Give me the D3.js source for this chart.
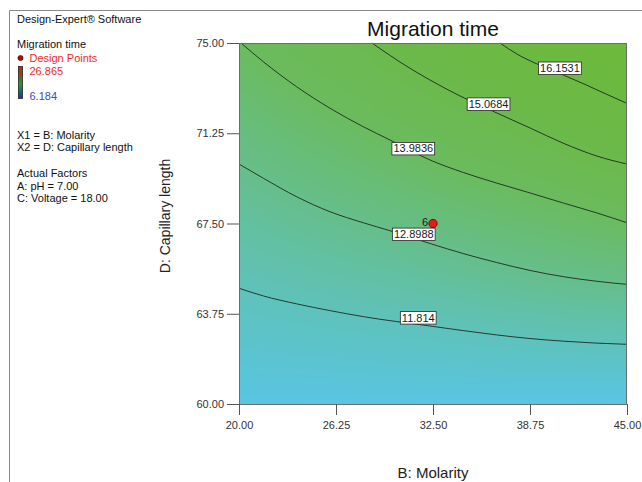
<!DOCTYPE html>
<html>
<head>
<meta charset="utf-8">
<script src="https://cdn.jsdelivr.net/npm/d3@7"></script>
<style>
  html, body { margin: 0; padding: 0; background: #fff; }
  svg { display: block; font-family: "Liberation Sans", Arial, sans-serif; }
</style>
</head>
<body>
<svg id="chart" width="642" height="482"></svg>
<script>
// Axis ticks
const xTicks = [20, 26.25, 32.5, 38.75, 45];
const yTicks = [60, 63.75, 67.5, 71.25, 75];

// Contour levels of the response (Migration time)
const levels = [11.814, 12.8988, 13.9836, 15.0684, 16.1531];

// Contour traces: [B: Molarity, D: Capillary length]
const contour11814 = [[20, 64.81], [21.57, 64.49], [23.72, 64.16], [25.86, 63.88], [28.01, 63.63], [32.31, 63.24],
  [34.45, 63.05], [36.60, 62.87], [38.75, 62.72], [40.90, 62.61], [43.05, 62.53], [45, 62.48]];
const contour12899 = [[20, 69.97], [21.57, 69.38], [23.72, 68.61], [25.86, 67.99], [28.01, 67.53], [29.73, 67.20],
  [32.40, 66.65], [34.45, 66.25], [36.60, 65.88], [38.75, 65.55], [40.90, 65.29], [43.05, 65.10], [45, 64.97]];
const contour13984 = [[20.13, 75], [21.57, 74.22], [23.72, 73.18], [25.86, 72.29], [28.01, 71.52], [29.73, 70.97],
  [32.45, 70.10], [34.45, 69.62], [36.60, 69.18], [38.75, 68.77], [40.90, 68.35], [43.05, 67.94], [45, 67.53]];
const contour15068 = [[28.57, 75], [30.37, 74.21], [32.31, 73.46], [34.24, 72.80], [36.17, 72.22], [38.75, 71.47],
  [40.88, 70.84], [43.07, 70.30], [45, 69.97]];
const contour16153 = [[36.82, 75], [37.91, 74.54], [39.20, 74.13], [40.68, 73.73], [42.29, 73.28], [43.65, 72.88], [45, 72.49]];

// Contour label anchors: [level text, Molarity, Capillary length]
const contourLabels = [["16.1531", 40.68, 73.96], ["15.0684", 36.08, 72.47], ["13.9836", 31.23, 70.62],
  ["12.8988", 31.26, 67.06], ["11.814", 31.55, 63.59]];

// Design point (centre point, 6 replicates)
const designPoints = [[32.5, 67.5, "6"]];

// Response-to-colour stops for the shaded field
const fieldStops = [10.7, 11.8, 12.9, 14.0, 15.1, 16.2, 17.3];
const fieldColors = ["#58c5e6", "#5fc2bb", "#66be8a", "#6bbb5e", "#6cb94c", "#6cb942", "#6eb93a"];

const svg = d3.select("#chart");
const W = 642, H = 482;
const plot = { left: 239, right: 627, top: 43, bottom: 404 };

const x = d3.scaleLinear().domain([20, 45]).range([plot.left, plot.right]);
const y = d3.scaleLinear().domain([60, 75]).range([plot.bottom, plot.top]);

const contours = [contour11814, contour12899, contour13984, contour15068, contour16153]
  .map((pts, i) => ({ level: levels[i], pts }));

// Outer frame (runs off the right and bottom edges)
svg.append("path")
  .attr("d", `M9.5,${H} V10.5 H${W}`)
  .attr("fill", "none").attr("stroke", "#8a8a8a").attr("stroke-width", 1);

// ---- shaded response field, interpolated between contours column by column ----
function traceAt(pts, xv) {
  if (xv < pts[0][0] || xv > pts[pts.length - 1][0]) return null;
  for (let k = 0; k < pts.length - 1; k++) {
    const a = pts[k], b = pts[k + 1];
    if (xv >= a[0] && xv <= b[0]) {
      const t = (xv - a[0]) / (b[0] - a[0]);
      return a[1] + t * (b[1] - a[1]);
    }
  }
  return null;
}
const fieldColor = d3.scaleLinear().domain(fieldStops).range(fieldColors)
  .interpolate(d3.interpolateRgb).clamp(true);

const pw = plot.right - plot.left, ph = plot.bottom - plot.top;
const canvas = document.createElement("canvas");
canvas.width = pw; canvas.height = ph;
const ctx = canvas.getContext("2d");
const img = ctx.createImageData(pw, ph);
for (let i = 0; i < pw; i++) {
  const xv = x.invert(plot.left + i + 0.5);
  const cross = contours.map(c => ({ y: traceAt(c.pts, xv), level: c.level }))
    .filter(d => d.y !== null).sort((a, b) => a.y - b.y);
  for (let j = 0; j < ph; j++) {
    const yv = y.invert(plot.top + j + 0.5);
    let k = 0;
    while (k < cross.length - 2 && yv > cross[k + 1].y) k++;
    const a = cross[k], b = cross[k + 1];
    const v = a.level + (yv - a.y) * (b.level - a.level) / (b.y - a.y);
    const c = d3.rgb(fieldColor(v));
    const p = (j * pw + i) * 4;
    img.data[p] = c.r; img.data[p + 1] = c.g; img.data[p + 2] = c.b; img.data[p + 3] = 255;
  }
}
ctx.putImageData(img, 0, 0);
svg.append("image")
  .attr("x", plot.left).attr("y", plot.top)
  .attr("width", pw).attr("height", ph)
  .attr("href", canvas.toDataURL());

// ---- contour lines ----
const line = d3.line().x(d => x(d[0])).y(d => y(d[1])).curve(d3.curveMonotoneX);
svg.append("g").selectAll("path").data(contours).join("path")
  .attr("d", d => line(d.pts))
  .attr("fill", "none").attr("stroke", "#1d2a22").attr("stroke-width", 0.9);

// plot border
svg.append("rect")
  .attr("x", plot.left + 0.5).attr("y", plot.top + 0.5)
  .attr("width", pw - 1).attr("height", ph)
  .attr("fill", "none").attr("stroke", "#6d6d6d").attr("stroke-width", 1);

// ---- contour labels ----
const lab = svg.append("g").attr("font-size", 11).attr("fill", "#1a1a1a");
contourLabels.forEach(([t, lx, ly]) => {
  const g = lab.append("g").attr("transform", `translate(${x(lx)},${y(ly)})`);
  const txt = g.append("text").attr("text-anchor", "middle").attr("dy", "0.36em").text(t);
  const bw = txt.node().getComputedTextLength() + 3;
  g.insert("rect", "text")
    .attr("x", -bw / 2).attr("y", -6).attr("width", bw).attr("height", 12.5)
    .attr("fill", "#fff").attr("stroke", "#2a2a2a").attr("stroke-width", 0.8);
});

// ---- design points ----
designPoints.forEach(([dx, dy, n]) => {
  svg.append("circle").attr("cx", x(dx)).attr("cy", y(dy)).attr("r", 4.2)
    .attr("fill", "#e8181c").attr("stroke", "#6a0000").attr("stroke-width", 0.8);
  svg.append("text").attr("x", x(dx) - 5).attr("y", y(dy) + 2)
    .attr("text-anchor", "end").attr("font-size", 11).attr("fill", "#1a1a1a").text(n);
});

// ---- axes ----
const fmt = d3.format(".2f");
const xAxis = svg.append("g").attr("transform", `translate(0,${plot.bottom})`)
  .call(d3.axisBottom(x).tickValues(xTicks).tickFormat(fmt).tickSize(11).tickPadding(6));
const yAxis = svg.append("g").attr("transform", `translate(${plot.left},0)`)
  .call(d3.axisLeft(y).tickValues(yTicks).tickFormat(fmt).tickSize(12).tickPadding(3));
[xAxis, yAxis].forEach(ax => {
  ax.select(".domain").remove();
  ax.selectAll(".tick line").attr("stroke", "#555");
  ax.selectAll(".tick text").attr("fill", "#333").attr("font-size", 11)
    .attr("font-family", "Liberation Sans, Arial, sans-serif");
});

// ---- titles ----
svg.append("text").attr("x", (plot.left + plot.right) / 2).attr("y", 36)
  .attr("text-anchor", "middle").attr("font-size", 21).attr("fill", "#111").text("Migration time");
svg.append("text").attr("x", (plot.left + plot.right) / 2).attr("y", 478)
  .attr("text-anchor", "middle").attr("font-size", 15).attr("fill", "#222").text("B: Molarity");
svg.append("text").attr("transform", "translate(170,216) rotate(-90)")
  .attr("text-anchor", "middle").attr("font-size", 14).attr("fill", "#222").text("D: Capillary length");

// ---- legend block ----
const leg = svg.append("g").attr("font-size", 11).attr("fill", "#111");
leg.append("text").attr("x", 17).attr("y", 22.5).text("Design-Expert® Software");
leg.append("text").attr("x", 17).attr("y", 48).text("Migration time");
leg.append("circle").attr("cx", 20.5).attr("cy", 58).attr("r", 2.6)
  .attr("fill", "#c40000").attr("stroke", "#400").attr("stroke-width", 0.6);
leg.append("text").attr("x", 29.5).attr("y", 61.5).attr("fill", "#ee2a2a").text("Design Points");

const defs = svg.append("defs");
const grad = defs.append("linearGradient").attr("id", "ramp")
  .attr("x1", 0).attr("y1", 0).attr("x2", 0).attr("y2", 1);
[["0%", "#e01414"], ["30%", "#7a5a10"], ["55%", "#18a03a"], ["78%", "#12706a"], ["100%", "#1a2fb0"]]
  .forEach(([o, c]) => grad.append("stop").attr("offset", o).attr("stop-color", c));
leg.append("rect").attr("x", 18.5).attr("y", 66.5).attr("width", 4).attr("height", 32)
  .attr("fill", "url(#ramp)").attr("stroke", "#222").attr("stroke-width", 0.8);
leg.append("text").attr("x", 29.5).attr("y", 75).attr("fill", "#ee2a2a").text("26.865");
leg.append("text").attr("x", 29.5).attr("y", 100).attr("fill", "#3a4db0").text("6.184");

leg.append("text").attr("x", 17).attr("y", 139).text("X1 = B: Molarity");
leg.append("text").attr("x", 17).attr("y", 151).text("X2 = D: Capillary length");
leg.append("text").attr("x", 17).attr("y", 177).text("Actual Factors");
leg.append("text").attr("x", 17).attr("y", 189.5).text("A: pH = 7.00");
leg.append("text").attr("x", 17).attr("y", 202).text("C: Voltage = 18.00");
</script>
</body>
</html>
